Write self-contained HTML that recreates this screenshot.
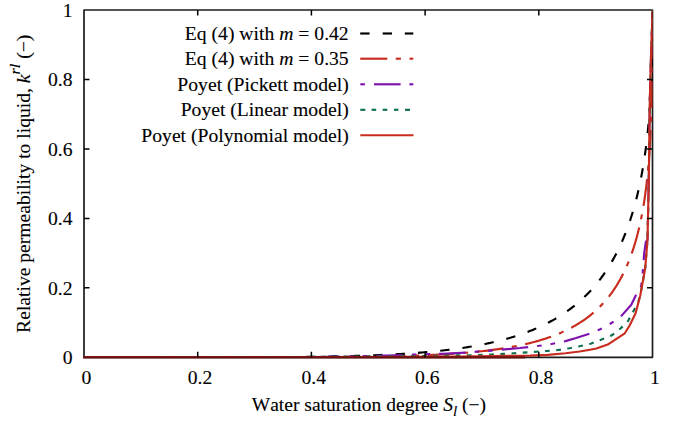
<!DOCTYPE html>
<html><head><meta charset="utf-8"><style>
html,body{margin:0;padding:0;background:#fff;width:676px;height:422px;overflow:hidden}
svg{display:block} text{font-kerning:none;font-feature-settings:"kern" 0}
</style></head><body>
<svg width="676" height="422" viewBox="0 0 676 422"><rect width="676" height="422" fill="#fff"/><rect x="84.0" y="10.0" width="568.5" height="347.3" fill="none" stroke="#1c1c1c" stroke-width="1.7" stroke-linejoin="round"/><defs><clipPath id="c"><rect x="84.0" y="10.0" width="568.5" height="347.3"/></clipPath></defs><g clip-path="url(#c)" fill="none" stroke-linejoin="round"><path d="M84.00,357.30 L88.25,357.30 L92.48,357.30 L96.70,357.30 L100.89,357.30 L105.05,357.30 L109.20,357.30 L113.33,357.30 L117.43,357.30 L121.52,357.30 L125.58,357.30 L129.62,357.30 L133.65,357.30 L137.65,357.30 L141.63,357.30 L145.59,357.30 L149.53,357.30 L153.45,357.30 L157.35,357.30 L161.22,357.30 L165.08,357.30 L168.92,357.30 L172.74,357.30 L176.54,357.30 L180.31,357.29 L184.07,357.29 L187.81,357.29 L191.53,357.29 L195.22,357.29 L198.90,357.29 L202.56,357.28 L206.20,357.28 L209.82,357.28 L213.41,357.27 L216.99,357.27 L220.55,357.27 L224.09,357.26 L227.62,357.26 L231.12,357.25 L234.60,357.24 L238.06,357.23 L241.51,357.23 L244.93,357.22 L248.34,357.21 L251.73,357.20 L255.09,357.19 L258.44,357.17 L261.77,357.16 L265.08,357.15 L268.38,357.13 L271.65,357.11 L274.90,357.09 L278.14,357.08 L281.36,357.05 L284.56,357.03 L287.74,357.01 L290.90,356.98 L294.05,356.96 L297.17,356.93 L300.28,356.90 L303.37,356.87 L306.44,356.83 L309.49,356.80 L312.53,356.76 L315.55,356.72 L318.55,356.67 L321.53,356.63 L324.49,356.58 L327.44,356.53 L330.37,356.48 L333.28,356.43 L336.17,356.37 L339.05,356.31 L341.91,356.25 L344.75,356.18 L347.57,356.12 L350.38,356.04 L353.16,355.97 L355.94,355.89 L358.69,355.81 L361.43,355.73 L364.15,355.64 L366.85,355.55 L369.54,355.45 L372.21,355.35 L374.86,355.25 L377.50,355.15 L380.11,355.04 L382.72,354.92 L385.30,354.80 L387.87,354.68 L390.42,354.55 L392.96,354.42 L395.48,354.29 L397.98,354.15 L400.47,354.00 L402.94,353.86 L405.40,353.70 L407.84,353.54 L410.26,353.38 L412.66,353.21 L415.05,353.04 L417.43,352.86 L419.79,352.67 L422.13,352.48 L424.46,352.29 L426.77,352.09 L429.06,351.88 L431.34,351.67 L433.61,351.45 L435.86,351.23 L438.09,351.00 L440.31,350.77 L442.51,350.52 L444.70,350.28 L446.87,350.02 L449.03,349.76 L451.17,349.50 L453.30,349.22 L455.41,348.95 L457.50,348.66 L459.59,348.37 L461.65,348.07 L463.71,347.76 L465.74,347.45 L467.77,347.13 L469.77,346.80 L471.77,346.47 L473.75,346.13 L475.71,345.78 L477.66,345.43 L479.60,345.06 L481.52,344.69 L483.42,344.32 L485.32,343.93 L487.19,343.54 L489.06,343.14 L490.91,342.73 L492.75,342.32 L494.57,341.89 L496.38,341.46 L498.17,341.02 L499.95,340.58 L501.72,340.12 L503.47,339.66 L505.21,339.19 L506.94,338.71 L508.65,338.22 L510.35,337.73 L512.03,337.22 L513.71,336.71 L515.36,336.19 L517.01,335.66 L518.64,335.12 L520.26,334.57 L521.87,334.02 L523.46,333.46 L525.04,332.88 L526.61,332.30 L528.16,331.71 L529.70,331.11 L531.23,330.51 L532.75,329.89 L534.25,329.27 L535.74,328.63 L537.22,327.99 L538.69,327.34 L540.14,326.68 L541.58,326.01 L543.01,325.33 L544.42,324.64 L545.83,323.95 L547.22,323.24 L548.60,322.53 L549.96,321.80 L551.32,321.07 L552.66,320.33 L553.99,319.58 L555.31,318.82 L556.62,318.05 L557.92,317.27 L559.20,316.48 L560.47,315.68 L561.73,314.87 L562.98,314.06 L564.22,313.23 L565.45,312.40 L566.66,311.56 L567.86,310.70 L569.06,309.84 L570.24,308.97 L571.41,308.09 L572.56,307.20 L573.71,306.30 L574.85,305.39 L575.97,304.47 L577.09,303.55 L578.19,302.61 L579.28,301.66 L580.37,300.71 L581.44,299.75 L582.50,298.77 L583.55,297.79 L584.59,296.80 L585.62,295.80 L586.64,294.79 L587.64,293.77 L588.64,292.74 L589.63,291.71 L590.61,290.66 L591.57,289.61 L592.53,288.54 L593.48,287.47 L594.41,286.39 L595.34,285.30 L596.26,284.20 L597.16,283.09 L598.06,281.97 L598.95,280.85 L599.83,279.71 L600.70,278.57 L601.55,277.41 L602.40,276.25 L603.24,275.08 L604.07,273.90 L604.89,272.72 L605.71,271.52 L606.51,270.32 L607.30,269.11 L608.08,267.89 L608.86,266.66 L609.62,265.42 L610.38,264.17 L611.13,262.92 L611.87,261.66 L612.60,260.39 L613.32,259.11 L614.03,257.82 L614.73,256.53 L615.43,255.23 L616.12,253.92 L616.79,252.60 L617.46,251.27 L618.12,249.94 L618.78,248.60 L619.42,247.25 L620.06,245.89 L620.69,244.53 L621.31,243.16 L621.92,241.78 L622.52,240.39 L623.12,239.00 L623.70,237.60 L624.28,236.19 L624.86,234.78 L625.42,233.36 L625.98,231.93 L626.52,230.49 L627.07,229.05 L627.60,227.60 L628.13,226.15 L628.64,224.69 L629.16,223.22 L629.66,221.74 L630.16,220.26 L630.64,218.77 L631.13,217.28 L631.60,215.78 L632.07,214.28 L632.53,212.76 L632.98,211.25 L633.43,209.72 L633.87,208.19 L634.30,206.66 L634.73,205.12 L635.15,203.57 L635.56,202.02 L635.97,200.46 L636.37,198.90 L636.76,197.34 L637.15,195.76 L637.53,194.19 L637.91,192.60 L638.27,191.02 L638.63,189.43 L638.99,187.83 L639.34,186.23 L639.68,184.62 L640.02,183.01 L640.35,181.40 L640.68,179.78 L641.00,178.16 L641.31,176.53 L641.62,174.90 L641.92,173.27 L642.22,171.63 L642.51,169.99 L642.79,168.35 L643.07,166.70 L643.35,165.05 L643.62,163.39 L643.88,161.74 L644.14,160.08 L644.39,158.41 L644.64,156.75 L644.88,155.08 L645.12,153.41 L645.36,151.73 L645.58,150.06 L645.81,148.38 L646.02,146.70 L646.24,145.02 L646.45,143.33 L646.65,141.65 L646.85,139.96 L647.04,138.27 L647.24,136.58 L647.42,134.89 L647.60,133.19 L647.78,131.50 L647.95,129.80 L648.12,128.11 L648.28,126.41 L648.44,124.71 L648.60,123.02 L648.75,121.32 L648.90,119.62 L649.04,117.92 L649.18,116.23 L649.32,114.53 L649.45,112.83 L649.58,111.13 L649.71,109.44 L649.83,107.74 L649.95,106.05 L650.06,104.36 L650.17,102.67 L650.28,100.98 L650.38,99.29 L650.48,97.60 L650.58,95.92 L650.68,94.23 L650.77,92.55 L650.85,90.87 L650.94,89.20 L651.02,87.53 L651.10,85.86 L651.18,84.19 L651.25,82.53 L651.32,80.87 L651.39,79.21 L651.45,77.56 L651.52,75.91 L651.58,74.27 L651.64,72.63 L651.69,71.00 L651.74,69.37 L651.79,67.74 L651.84,66.13 L651.89,64.52 L651.93,62.91 L651.97,61.31 L652.01,59.72 L652.05,58.13 L652.09,56.55 L652.12,54.98 L652.15,53.42 L652.18,51.86 L652.21,50.32 L652.24,48.78 L652.26,47.25 L652.28,45.73 L652.31,44.22 L652.33,42.73 L652.34,41.24 L652.36,39.77 L652.38,38.30 L652.39,36.85 L652.41,35.42 L652.42,33.99 L652.43,32.58 L652.44,31.19 L652.45,29.82 L652.46,28.46 L652.46,27.12 L652.47,25.79 L652.48,24.49 L652.48,23.21 L652.48,21.95 L652.49,20.72 L652.49,19.52 L652.49,18.34 L652.50,17.20 L652.50,16.09 L652.50,15.02 L652.50,13.99 L652.50,13.01 L652.50,12.10 L652.50,11.26 L652.50,10.53 L652.50,10.00" stroke="#000" stroke-width="2.15" stroke-dasharray="9.4 13" stroke-dashoffset="2"/><path d="M84.00,357.30 L88.25,357.30 L92.48,357.30 L96.70,357.30 L100.89,357.30 L105.05,357.30 L109.20,357.30 L113.33,357.30 L117.43,357.30 L121.52,357.30 L125.58,357.30 L129.62,357.30 L133.65,357.30 L137.65,357.30 L141.63,357.30 L145.59,357.30 L149.53,357.30 L153.45,357.30 L157.35,357.30 L161.22,357.30 L165.08,357.30 L168.92,357.30 L172.74,357.30 L176.54,357.30 L180.31,357.30 L184.07,357.30 L187.81,357.30 L191.53,357.30 L195.22,357.30 L198.90,357.30 L202.56,357.30 L206.20,357.30 L209.82,357.30 L213.41,357.30 L216.99,357.29 L220.55,357.29 L224.09,357.29 L227.62,357.29 L231.12,357.29 L234.60,357.29 L238.06,357.29 L241.51,357.29 L244.93,357.28 L248.34,357.28 L251.73,357.28 L255.09,357.28 L258.44,357.27 L261.77,357.27 L265.08,357.26 L268.38,357.26 L271.65,357.26 L274.90,357.25 L278.14,357.24 L281.36,357.24 L284.56,357.23 L287.74,357.23 L290.90,357.22 L294.05,357.21 L297.17,357.20 L300.28,357.19 L303.37,357.18 L306.44,357.17 L309.49,357.16 L312.53,357.14 L315.55,357.13 L318.55,357.12 L321.53,357.10 L324.49,357.09 L327.44,357.07 L330.37,357.05 L333.28,357.03 L336.17,357.01 L339.05,356.99 L341.91,356.96 L344.75,356.94 L347.57,356.91 L350.38,356.89 L353.16,356.86 L355.94,356.83 L358.69,356.80 L361.43,356.76 L364.15,356.73 L366.85,356.69 L369.54,356.65 L372.21,356.61 L374.86,356.57 L377.50,356.52 L380.11,356.48 L382.72,356.43 L385.30,356.38 L387.87,356.33 L390.42,356.27 L392.96,356.21 L395.48,356.15 L397.98,356.09 L400.47,356.03 L402.94,355.96 L405.40,355.89 L407.84,355.82 L410.26,355.74 L412.66,355.66 L415.05,355.58 L417.43,355.50 L419.79,355.41 L422.13,355.32 L424.46,355.22 L426.77,355.13 L429.06,355.03 L431.34,354.92 L433.61,354.82 L435.86,354.71 L438.09,354.59 L440.31,354.47 L442.51,354.35 L444.70,354.23 L446.87,354.10 L449.03,353.96 L451.17,353.83 L453.30,353.69 L455.41,353.54 L457.50,353.39 L459.59,353.24 L461.65,353.08 L463.71,352.91 L465.74,352.75 L467.77,352.57 L469.77,352.40 L471.77,352.22 L473.75,352.03 L475.71,351.84 L477.66,351.64 L479.60,351.44 L481.52,351.23 L483.42,351.02 L485.32,350.81 L487.19,350.58 L489.06,350.36 L490.91,350.12 L492.75,349.89 L494.57,349.64 L496.38,349.39 L498.17,349.14 L499.95,348.87 L501.72,348.61 L503.47,348.33 L505.21,348.06 L506.94,347.77 L508.65,347.48 L510.35,347.18 L512.03,346.88 L513.71,346.57 L515.36,346.25 L517.01,345.93 L518.64,345.60 L520.26,345.26 L521.87,344.92 L523.46,344.57 L525.04,344.22 L526.61,343.85 L528.16,343.48 L529.70,343.11 L531.23,342.72 L532.75,342.33 L534.25,341.93 L535.74,341.53 L537.22,341.12 L538.69,340.70 L540.14,340.27 L541.58,339.84 L543.01,339.39 L544.42,338.94 L545.83,338.49 L547.22,338.02 L548.60,337.55 L549.96,337.07 L551.32,336.58 L552.66,336.09 L553.99,335.58 L555.31,335.07 L556.62,334.55 L557.92,334.02 L559.20,333.49 L560.47,332.95 L561.73,332.39 L562.98,331.83 L564.22,331.26 L565.45,330.69 L566.66,330.10 L567.86,329.51 L569.06,328.91 L570.24,328.30 L571.41,327.68 L572.56,327.05 L573.71,326.41 L574.85,325.77 L575.97,325.12 L577.09,324.45 L578.19,323.78 L579.28,323.10 L580.37,322.41 L581.44,321.72 L582.50,321.01 L583.55,320.30 L584.59,319.57 L585.62,318.84 L586.64,318.10 L587.64,317.34 L588.64,316.58 L589.63,315.82 L590.61,315.04 L591.57,314.25 L592.53,313.45 L593.48,312.65 L594.41,311.83 L595.34,311.01 L596.26,310.17 L597.16,309.33 L598.06,308.48 L598.95,307.62 L599.83,306.75 L600.70,305.87 L601.55,304.98 L602.40,304.08 L603.24,303.17 L604.07,302.25 L604.89,301.33 L605.71,300.39 L606.51,299.44 L607.30,298.49 L608.08,297.52 L608.86,296.55 L609.62,295.56 L610.38,294.57 L611.13,293.57 L611.87,292.56 L612.60,291.53 L613.32,290.50 L614.03,289.46 L614.73,288.41 L615.43,287.35 L616.12,286.28 L616.79,285.20 L617.46,284.11 L618.12,283.02 L618.78,281.91 L619.42,280.79 L620.06,279.66 L620.69,278.53 L621.31,277.38 L621.92,276.23 L622.52,275.06 L623.12,273.89 L623.70,272.70 L624.28,271.51 L624.86,270.31 L625.42,269.10 L625.98,267.87 L626.52,266.64 L627.07,265.40 L627.60,264.15 L628.13,262.89 L628.64,261.62 L629.16,260.34 L629.66,259.06 L630.16,257.76 L630.64,256.45 L631.13,255.14 L631.60,253.81 L632.07,252.48 L632.53,251.13 L632.98,249.78 L633.43,248.42 L633.87,247.04 L634.30,245.66 L634.73,244.27 L635.15,242.87 L635.56,241.47 L635.97,240.05 L636.37,238.62 L636.76,237.19 L637.15,235.74 L637.53,234.29 L637.91,232.82 L638.27,231.35 L638.63,229.87 L638.99,228.38 L639.34,226.88 L639.68,225.37 L640.02,223.86 L640.35,222.33 L640.68,220.80 L641.00,219.25 L641.31,217.70 L641.62,216.14 L641.92,214.57 L642.22,212.99 L642.51,211.41 L642.79,209.81 L643.07,208.21 L643.35,206.60 L643.62,204.98 L643.88,203.35 L644.14,201.71 L644.39,200.06 L644.64,198.41 L644.88,196.74 L645.12,195.07 L645.36,193.39 L645.58,191.71 L645.81,190.01 L646.02,188.31 L646.24,186.60 L646.45,184.88 L646.65,183.15 L646.85,181.41 L647.04,179.67 L647.24,177.92 L647.42,176.16 L647.60,174.39 L647.78,172.61 L647.95,170.83 L648.12,169.04 L648.28,167.24 L648.44,165.43 L648.60,163.62 L648.75,161.80 L648.90,159.97 L649.04,158.14 L649.18,156.29 L649.32,154.44 L649.45,152.58 L649.58,150.72 L649.71,148.85 L649.83,146.97 L649.95,145.08 L650.06,143.19 L650.17,141.29 L650.28,139.38 L650.38,137.47 L650.48,135.54 L650.58,133.62 L650.68,131.68 L650.77,129.74 L650.85,127.79 L650.94,125.84 L651.02,123.88 L651.10,121.91 L651.18,119.94 L651.25,117.96 L651.32,115.98 L651.39,113.98 L651.45,111.99 L651.52,109.98 L651.58,107.97 L651.64,105.96 L651.69,103.94 L651.74,101.91 L651.79,99.88 L651.84,97.84 L651.89,95.80 L651.93,93.75 L651.97,91.69 L652.01,89.64 L652.05,87.57 L652.09,85.50 L652.12,83.43 L652.15,81.35 L652.18,79.27 L652.21,77.18 L652.24,75.09 L652.26,73.00 L652.28,70.90 L652.31,68.79 L652.33,66.69 L652.34,64.58 L652.36,62.46 L652.38,60.35 L652.39,58.23 L652.41,56.10 L652.42,53.98 L652.43,51.85 L652.44,49.72 L652.45,47.59 L652.46,45.46 L652.46,43.33 L652.47,41.19 L652.48,39.06 L652.48,36.93 L652.48,34.80 L652.49,32.67 L652.49,30.54 L652.49,28.42 L652.50,26.30 L652.50,24.19 L652.50,22.09 L652.50,20.00 L652.50,17.92 L652.50,15.87 L652.50,13.84 L652.50,11.86 L652.50,10.00" stroke="#c82c1e" stroke-width="2.15" stroke-dasharray="27 8.5 5 8.6" stroke-dashoffset="0"/><path d="M84.00,357.30 L300.00,357.20 L371.00,355.90 L395.00,355.20 L443.00,353.70 L466.00,352.60 L491.00,350.60 L520.00,348.00 L539.30,345.80 L552.60,343.80 L565.50,341.10 L576.10,338.00 L588.60,334.00 L599.70,329.50 L611.00,323.30 L620.70,316.70 L631.30,304.80 L635.50,296.00 L641.30,285.50 L642.70,272.70 L644.10,254.20 L645.80,242.00 L647.50,240.00 L648.80,180.00 L649.80,100.00 L651.20,50.00 L652.60,9.50" stroke="#7e12ae" stroke-width="2.15" stroke-dasharray="4.6 9 26.6 9 4.6 9" stroke-dashoffset="35.3"/><path d="M84.00,357.30 L300.00,357.00 L420.00,356.00 L470.00,355.20 L491.00,354.60 L503.00,353.90 L514.00,353.30 L536.00,351.70 L547.00,351.00 L558.40,350.00 L569.50,348.20 L580.60,346.00 L590.70,343.70 L601.60,339.40 L612.00,335.20 L620.50,328.50 L628.10,321.00 L634.30,309.50 L638.40,301.80 L640.30,295.20 L645.20,268.40 L647.50,240.00 L648.80,180.00 L649.80,100.00 L651.20,50.00 L652.60,9.50" stroke="#0e6e4c" stroke-width="2.15" stroke-dasharray="4.7 6.5" stroke-dashoffset="9.2"/><path d="M84.00,357.30 L300.00,357.20 L460.00,356.60 L530.00,355.60 L547.70,354.90 L565.50,353.20 L579.70,351.50 L590.00,349.70 L596.40,348.50 L607.70,344.60 L624.80,333.30 L629.50,325.70 L635.60,313.20 L640.30,295.20 L645.20,268.40 L647.50,240.00 L648.80,180.00 L649.80,100.00 L651.20,50.00 L652.60,9.50" stroke="#c82c1e" stroke-width="2.15"/></g><line x1="83.0" y1="357.3" x2="525" y2="357.3" stroke="#6a1010" stroke-width="2.3"/><path d="M197.70,357.3 v-5.5 M197.70,10.0 v5.5 M84.0,287.84 h5.5 M652.5,287.84 h-5.5 M311.40,357.3 v-5.5 M311.40,10.0 v5.5 M84.0,218.38 h5.5 M652.5,218.38 h-5.5 M425.10,357.3 v-5.5 M425.10,10.0 v5.5 M84.0,148.92 h5.5 M652.5,148.92 h-5.5 M538.80,357.3 v-5.5 M538.80,10.0 v5.5 M84.0,79.46 h5.5 M652.5,79.46 h-5.5" stroke="#000" stroke-width="1.5" fill="none"/><text transform="translate(86.30,384.00) scale(0.983,0.93)" font-family='"Liberation Serif", serif' font-size="20" text-anchor="middle" fill="#000" stroke="#000" stroke-width="0.12">0</text><text transform="translate(72.50,364.10) scale(0.983,0.93)" font-family='"Liberation Serif", serif' font-size="20" text-anchor="end" fill="#000" stroke="#000" stroke-width="0.12">0</text><text transform="translate(200.00,384.00) scale(0.983,0.93)" font-family='"Liberation Serif", serif' font-size="20" text-anchor="middle" fill="#000" stroke="#000" stroke-width="0.12">0.2</text><text transform="translate(72.50,294.64) scale(0.983,0.93)" font-family='"Liberation Serif", serif' font-size="20" text-anchor="end" fill="#000" stroke="#000" stroke-width="0.12">0.2</text><text transform="translate(313.70,384.00) scale(0.983,0.93)" font-family='"Liberation Serif", serif' font-size="20" text-anchor="middle" fill="#000" stroke="#000" stroke-width="0.12">0.4</text><text transform="translate(72.50,225.18) scale(0.983,0.93)" font-family='"Liberation Serif", serif' font-size="20" text-anchor="end" fill="#000" stroke="#000" stroke-width="0.12">0.4</text><text transform="translate(427.40,384.00) scale(0.983,0.93)" font-family='"Liberation Serif", serif' font-size="20" text-anchor="middle" fill="#000" stroke="#000" stroke-width="0.12">0.6</text><text transform="translate(72.50,155.72) scale(0.983,0.93)" font-family='"Liberation Serif", serif' font-size="20" text-anchor="end" fill="#000" stroke="#000" stroke-width="0.12">0.6</text><text transform="translate(541.10,384.00) scale(0.983,0.93)" font-family='"Liberation Serif", serif' font-size="20" text-anchor="middle" fill="#000" stroke="#000" stroke-width="0.12">0.8</text><text transform="translate(72.50,86.26) scale(0.983,0.93)" font-family='"Liberation Serif", serif' font-size="20" text-anchor="end" fill="#000" stroke="#000" stroke-width="0.12">0.8</text><text transform="translate(654.80,384.00) scale(0.983,0.93)" font-family='"Liberation Serif", serif' font-size="20" text-anchor="middle" fill="#000" stroke="#000" stroke-width="0.12">1</text><text transform="translate(72.50,16.80) scale(0.983,0.93)" font-family='"Liberation Serif", serif' font-size="20" text-anchor="end" fill="#000" stroke="#000" stroke-width="0.12">1</text><text transform="translate(368.90,411.40) scale(0.977,0.93)" font-family='"Liberation Serif", serif' font-size="20" text-anchor="middle" fill="#000" stroke="#000" stroke-width="0.12">Water saturation degree <tspan font-style="italic">S</tspan><tspan font-style="italic" font-size="15.5" dy="5">l</tspan><tspan dy="-5"> (&#8722;)</tspan></text><text transform="translate(30.00,183.80) rotate(-90) scale(0.98,0.93)" font-family='"Liberation Serif", serif' font-size="20" text-anchor="middle" fill="#000" stroke="#000" stroke-width="0.12">Relative permeability to liquid, <tspan font-style="italic">k</tspan><tspan font-style="italic" font-size="16.5" dy="-11">rl</tspan><tspan dy="11"> (&#8722;)</tspan></text><text transform="translate(348.70,40.00) scale(0.983,0.93)" font-family='"Liberation Serif", serif' font-size="20" text-anchor="end" fill="#000" stroke="#000" stroke-width="0.12">Eq (4) with <tspan font-style="italic">m</tspan> = 0.42</text><text transform="translate(348.70,65.20) scale(0.983,0.93)" font-family='"Liberation Serif", serif' font-size="20" text-anchor="end" fill="#000" stroke="#000" stroke-width="0.12">Eq (4) with <tspan font-style="italic">m</tspan> = 0.35</text><text transform="translate(348.70,90.80) scale(0.983,0.93)" font-family='"Liberation Serif", serif' font-size="20" text-anchor="end" fill="#000" stroke="#000" stroke-width="0.12">Poyet (Pickett model)</text><text transform="translate(348.70,116.30) scale(0.983,0.93)" font-family='"Liberation Serif", serif' font-size="20" text-anchor="end" fill="#000" stroke="#000" stroke-width="0.12">Poyet (Linear model)</text><text transform="translate(348.70,141.70) scale(0.983,0.93)" font-family='"Liberation Serif", serif' font-size="20" text-anchor="end" fill="#000" stroke="#000" stroke-width="0.12">Poyet (Polynomial model)</text><line x1="360.2" y1="33.5" x2="369.6" y2="33.5" stroke="#000" stroke-width="2.15"/><line x1="382.7" y1="33.5" x2="392" y2="33.5" stroke="#000" stroke-width="2.15"/><line x1="404.8" y1="33.5" x2="413.3" y2="33.5" stroke="#000" stroke-width="2.15"/><line x1="360.2" y1="58.7" x2="387.3" y2="58.7" stroke="#c82c1e" stroke-width="2.15"/><line x1="395.8" y1="58.7" x2="400.9" y2="58.7" stroke="#c82c1e" stroke-width="2.15"/><line x1="409.5" y1="58.7" x2="413.3" y2="58.7" stroke="#c82c1e" stroke-width="2.15"/><line x1="360.3" y1="84.3" x2="364.9" y2="84.3" stroke="#7e12ae" stroke-width="2.15"/><line x1="374" y1="84.3" x2="400.6" y2="84.3" stroke="#7e12ae" stroke-width="2.15"/><line x1="409.4" y1="84.3" x2="413.3" y2="84.3" stroke="#7e12ae" stroke-width="2.15"/><line x1="360.3" y1="109.8" x2="365.3" y2="109.8" stroke="#0e6e4c" stroke-width="2.15"/><line x1="371.6" y1="109.8" x2="376.2" y2="109.8" stroke="#0e6e4c" stroke-width="2.15"/><line x1="382.7" y1="109.8" x2="387.3" y2="109.8" stroke="#0e6e4c" stroke-width="2.15"/><line x1="394" y1="109.8" x2="398.4" y2="109.8" stroke="#0e6e4c" stroke-width="2.15"/><line x1="405" y1="109.8" x2="410" y2="109.8" stroke="#0e6e4c" stroke-width="2.15"/><line x1="360.3" y1="135.2" x2="413.5" y2="135.2" stroke="#c82c1e" stroke-width="2.15"/></svg>
</body></html>
